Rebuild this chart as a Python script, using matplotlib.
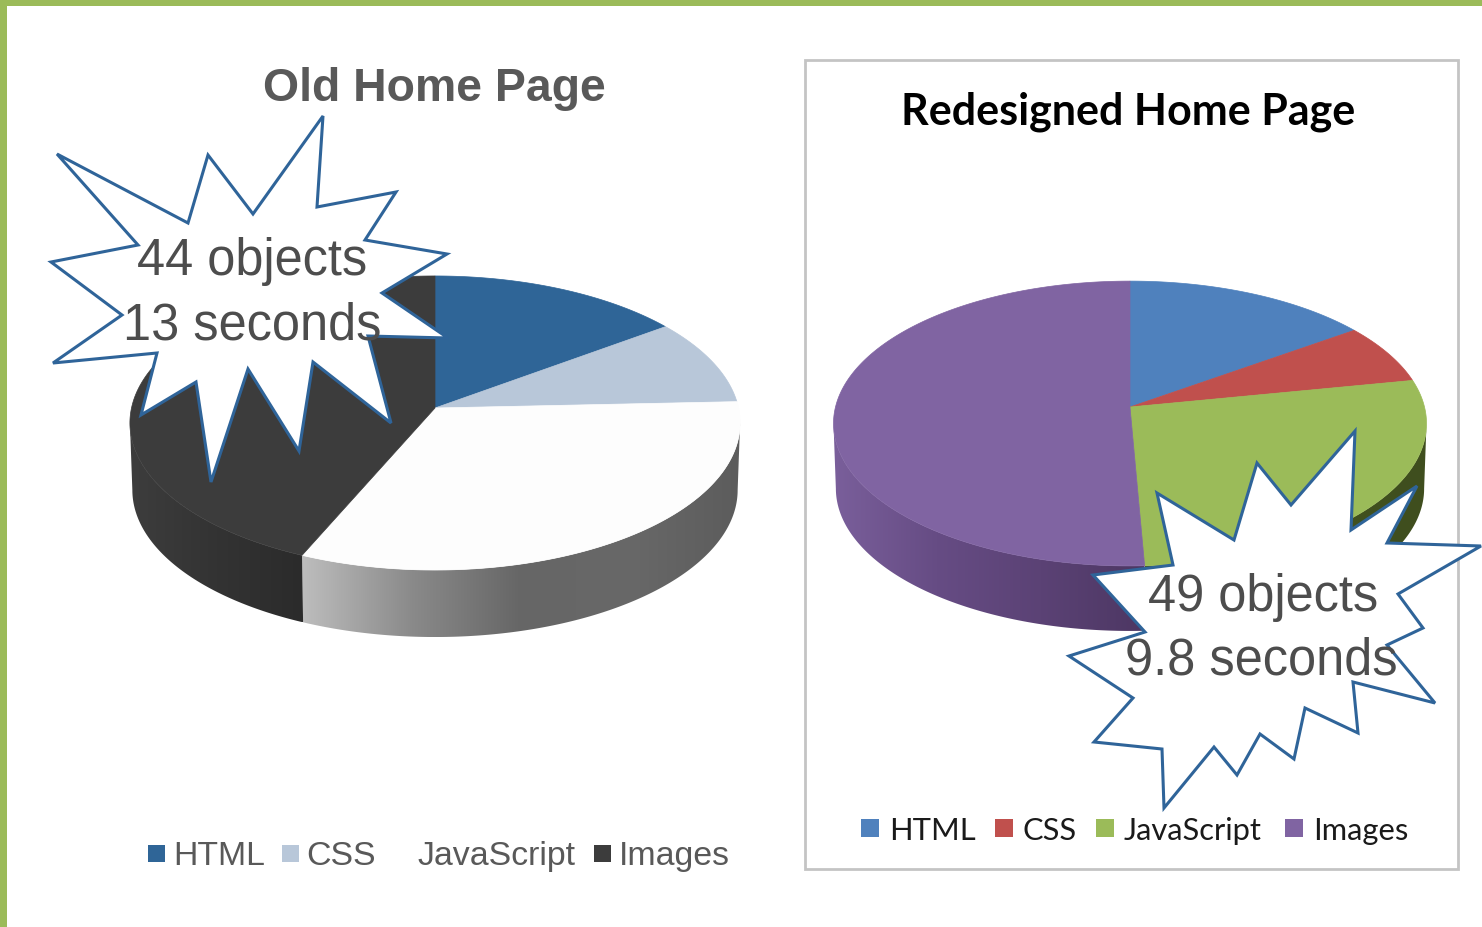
import matplotlib
matplotlib.use("Agg")
import matplotlib.pyplot as plt
import numpy as np
from matplotlib.colors import to_rgb
from matplotlib.patches import Polygon, Rectangle

CATEGORIES = ["HTML", "CSS", "JavaScript", "Images"]
OLD_SHARES = [14.9, 9.4, 32.2, 43.5]
NEW_SHARES = [15.1, 6.8, 27.4, 50.7]

OLD_COLORS = ["#2f6597", "#b8c7d9", "#fdfdfd", "#3c3c3c"]
NEW_COLORS = ["#4f81bd", "#c0504d", "#9bbb59", "#8064a2"]
OLD_SWATCHES = ["#2f6597", "#b8c7d9", "#ffffff", "#3c3c3c"]

# wall shading per slice, from left to right along the front of the pie
OLD_WALLS = [
    ["#2f6597", "#2f6597"],
    ["#b8c7d9", "#b8c7d9"],
    ["#bdbdbd", "#8a8a8a", "#666666", "#686868", "#5c5c5c"],
    ["#3d3d3d", "#333333", "#2b2b2b"],
]
NEW_WALLS = [
    ["#3b608d", "#3b608d"],
    ["#8f3c3a", "#8f3c3a"],
    ["#46571f", "#3f4e1e"],
    ["#7a5f9b", "#664c84", "#5b4275", "#4d3763"],
]

OLD_BURST = [
    (57, 154), (188, 223), (208, 155), (253, 214), (323, 116), (317, 207),
    (396, 192), (365, 240), (447, 254), (382, 293), (448, 338), (368, 336),
    (391, 423), (313, 362), (299, 451), (248, 369), (211, 482), (196, 382),
    (141, 415), (157, 353), (53, 363), (122, 315), (51, 262), (138, 245),
]
NEW_BURST = [
    (1157, 493), (1234, 540), (1257, 463), (1291, 505), (1355, 431), (1351, 530),
    (1417, 486), (1387, 543), (1481, 546), (1398, 594), (1423, 628), (1387, 645),
    (1435, 703), (1353, 682), (1358, 733), (1305, 708), (1294, 759), (1260, 734),
    (1237, 775), (1214, 747), (1164, 808), (1162, 749), (1094, 742), (1133, 698),
    (1069, 656), (1145, 632), (1093, 575), (1173, 565),
]

ARIAL = "Liberation Sans"
CALIBRI = "Lato"


def project(theta, pie):
    # perspective view of the pie disc, theta runs clockwise from the far side
    scale = 1.0 / (1.0 + pie["k"] * np.cos(theta))
    x = pie["cx"] + pie["r"] * np.sin(theta) * scale
    y = pie["cy"] - pie["h"] * np.cos(theta) * scale
    return x, y


def wall_gradient(stops):
    rgb = np.array([to_rgb(c) for c in stops])
    pos = np.linspace(0, 1, len(stops))
    t = np.linspace(0, 1, 256)
    return np.dstack([np.interp(t, pos, rgb[:, i]) for i in range(3)])


def draw_pie(ax, shares, colors, walls, pie):
    edges = np.cumsum([0.0] + list(shares)) / sum(shares) * 2 * np.pi
    # the widest points of the projected disc, the wall hangs between them
    side = np.arccos(-pie["k"])
    for start, stop, stops in zip(edges[:-1], edges[1:], walls):
        lo = max(start, side)
        hi = min(stop, 2 * np.pi - side)
        if hi <= lo:
            continue
        angles = np.linspace(lo, hi, 200)
        x, y = project(angles, pie)
        xb = pie["cx"] + (x - pie["cx"]) * pie["taper"]
        yb = y + pie["depth"]
        outline = list(zip(x, y)) + list(zip(xb[::-1], yb[::-1]))
        clip = Polygon(outline, closed=True, facecolor="none", edgecolor="none", transform=ax.transData)
        ax.add_patch(clip)
        im = ax.imshow(wall_gradient(stops), extent=(min(x.min(), xb.min()), max(x.max(), xb.max()), yb.max(), y.min()),
                       aspect="auto", interpolation="bilinear", zorder=2)
        im.set_clip_path(clip)
    # top face
    for start, stop, color in zip(edges[:-1], edges[1:], colors):
        angles = np.linspace(start, stop, 200)
        x, y = project(angles, pie)
        pts = [(pie["cx"], pie["cy"])] + list(zip(x, y))
        ax.add_patch(Polygon(pts, closed=True, facecolor=color, edgecolor=color, linewidth=0.5, zorder=3))


def draw_burst(ax, points):
    ax.add_patch(Polygon(points, closed=True, facecolor="white", edgecolor="#2f6499",
                         linewidth=2.2, joinstyle="miter", zorder=5))


def draw_legend(ax, labels, colors, swatch_x, text_x, y, size, fontsize, family, text_color):
    for label, color, sx, tx in zip(labels, colors, swatch_x, text_x):
        ax.add_patch(Rectangle((sx, y - size / 2), size, size, facecolor=color, edgecolor="none", zorder=6))
        ax.text(tx, y + 3, label, fontsize=fontsize, family=family, color=text_color,
                ha="left", va="center", zorder=7)


fig = plt.figure(figsize=(14.82, 9.27), dpi=100, facecolor="white")
ax = fig.add_axes([0, 0, 1, 1])

# slide border
ax.add_patch(Rectangle((0, 0), 1482, 5.5, facecolor="#9bbb59", edgecolor="none"))
ax.add_patch(Rectangle((0, 0), 6.5, 927, facecolor="#9bbb59", edgecolor="none"))

# frame around the second chart
ax.add_patch(Rectangle((805, 60), 653, 809, facecolor="white", edgecolor="#c4c4c4", linewidth=2, zorder=1))

old_pie = dict(cx=435, cy=408, r=303.5, h=145.5, k=0.102, depth=67, taper=0.992)
new_pie = dict(cx=1130, cy=407, r=294.5, h=140.5, k=0.116, depth=65, taper=0.992)

draw_pie(ax, OLD_SHARES, OLD_COLORS, OLD_WALLS, old_pie)
draw_pie(ax, NEW_SHARES, NEW_COLORS, NEW_WALLS, new_pie)
draw_burst(ax, OLD_BURST)
draw_burst(ax, NEW_BURST)

ax.set_xlim(0, 1482)
ax.set_ylim(927, 0)
ax.axis("off")

ax.text(434.5, 89, "Old Home Page", fontsize=33.4, fontweight="bold", family=ARIAL,
        color="#595959", ha="center", va="center", zorder=7)
ax.text(1128.5, 112, "Redesigned Home Page", fontsize=31, fontweight="bold", family=CALIBRI,
        color="#000000", ha="center", va="center", zorder=7)

ax.text(252, 262, "44 objects", fontsize=36.4, family=ARIAL, color="#4d4d4d", ha="center", va="center", zorder=7)
ax.text(252.5, 326, "13 seconds", fontsize=36.4, family=ARIAL, color="#4d4d4d", ha="center", va="center", zorder=7)
ax.text(1263, 598, "49 objects", fontsize=36.4, family=ARIAL, color="#4d4d4d", ha="center", va="center", zorder=7)
ax.text(1261, 661, "9.8 seconds", fontsize=36.4, family=ARIAL, color="#4d4d4d", ha="center", va="center", zorder=7)

draw_legend(ax, CATEGORIES, OLD_SWATCHES, [148, 282, 400, 594], [173, 306, 418, 619],
            853.5, 17, 24.4, ARIAL, "#595959")
draw_legend(ax, CATEGORIES, NEW_COLORS, [861, 995, 1096, 1285], [889, 1023, 1124, 1313],
            828, 18, 22.2, CALIBRI, "#1a1a1a")

fig.savefig("out.png", dpi=100, facecolor="white")
plt.close(fig)
